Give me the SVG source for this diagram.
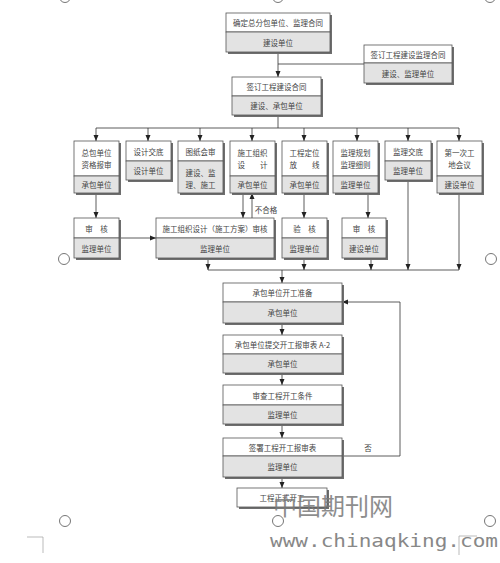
<svg xmlns="http://www.w3.org/2000/svg" width="500" height="563" viewBox="0 0 500 563">
<style>
.sh{fill:#6e6e6e}
.t{fill:#fff;stroke:#555;stroke-width:0.8}
.b{fill:#e3e3e3;stroke:#555;stroke-width:0.8}
text{font-family:"Noto Sans CJK SC","Noto Sans CJK JP",sans-serif;font-size:7.5px;fill:#444;text-anchor:middle;dominant-baseline:central}
.c{stroke:#333;stroke-width:0.8;fill:none}
.h{fill:#fff;stroke:#666;stroke-width:0.9}
.m{stroke:#aaa;stroke-width:0.8;fill:none}
</style>
<defs>
<marker id="a" markerWidth="6" markerHeight="6" refX="6" refY="3" orient="auto" markerUnits="userSpaceOnUse">
<path d="M0,0.5 L6,3 L0,5.5 z" fill="#222"/>
</marker>
</defs>
<rect width="500" height="563" fill="#fff"/>

<g id="connectors">
<path class="c" d="M278,52 V77" marker-end="url(#a)"/>
<path class="c" d="M364,64 H278"/>
<path class="c" d="M278,115 V128 M96,128 H459"/>
<path class="c" d="M96,128 V141" marker-end="url(#a)"/>
<path class="c" d="M148,128 V141" marker-end="url(#a)"/>
<path class="c" d="M200,128 V141" marker-end="url(#a)"/>
<path class="c" d="M252,128 V141" marker-end="url(#a)"/>
<path class="c" d="M304,128 V141" marker-end="url(#a)"/>
<path class="c" d="M357,128 V141" marker-end="url(#a)"/>
<path class="c" d="M408,128 V141" marker-end="url(#a)"/>
<path class="c" d="M459,128 V141" marker-end="url(#a)"/>
<path class="c" d="M96,193 V218" marker-end="url(#a)"/>
<path class="c" d="M119,238 H156" marker-end="url(#a)"/>
<path class="c" d="M243,193 V218" marker-end="url(#a)"/>
<path class="c" d="M252,218 V193" marker-end="url(#a)"/>
<path class="c" d="M304,193 V218" marker-end="url(#a)"/>
<path class="c" d="M368,193 V218" marker-end="url(#a)"/>
<path class="c" d="M208,258 V270" marker-end="url(#a)"/>
<path class="c" d="M304,258 V270" marker-end="url(#a)"/>
<path class="c" d="M371,258 V270" marker-end="url(#a)"/>
<path class="c" d="M408,180 V270" marker-end="url(#a)"/>
<path class="c" d="M459,193 V270" marker-end="url(#a)"/>
<path class="c" d="M208,270 H459"/>
<path class="c" d="M282,270 V283" marker-end="url(#a)"/>
<path class="c" d="M282,323 V335" marker-end="url(#a)"/>
<path class="c" d="M282,373 V385" marker-end="url(#a)"/>
<path class="c" d="M282,424 V438" marker-end="url(#a)"/>
<path class="c" d="M282,477 V488" marker-end="url(#a)"/>
<path class="c" d="M342,456 H400 V302 H342" marker-end="url(#a)"/>
<text x="266" y="209">不合格</text>
<text x="368" y="447">否</text>
</g>

<g id="n1">
<rect class="sh" x="228" y="15" width="104" height="39"/>
<rect class="t" x="226" y="13" width="104" height="19"/>
<rect class="b" x="226" y="32" width="104" height="20"/>
<text x="278" y="22.5">确定总分包单位、监理合同</text>
<text x="278" y="42">建设单位</text>
</g>
<g id="n2">
<rect class="sh" x="366" y="47" width="88" height="38"/>
<rect class="t" x="364" y="45" width="88" height="18"/>
<rect class="b" x="364" y="63" width="88" height="20"/>
<text x="408" y="54">签订工程建设监理合同</text>
<text x="408" y="73">建设、监理单位</text>
</g>
<g id="n3">
<rect class="sh" x="234" y="79" width="89" height="38"/>
<rect class="t" x="232" y="77" width="89" height="19"/>
<rect class="b" x="232" y="96" width="89" height="19"/>
<text x="276.5" y="86.5">签订工程建设合同</text>
<text x="276.5" y="105.5">建设、承包单位</text>
</g>

<g id="r1">
<rect class="sh" x="76" y="143" width="45" height="52"/>
<rect class="t" x="74" y="141" width="45" height="35"/>
<rect class="b" x="74" y="176" width="45" height="17"/>
<text x="96.5" y="152">总包单位</text>
<text x="96.5" y="164">资格报审</text>
<text x="96.5" y="184.5">承包单位</text>
</g>
<g id="r2">
<rect class="sh" x="128" y="143" width="45" height="39"/>
<rect class="t" x="126" y="141" width="45" height="20"/>
<rect class="b" x="126" y="161" width="45" height="19"/>
<text x="148.5" y="151">设计交底</text>
<text x="148.5" y="170.5">设计单位</text>
</g>
<g id="r3">
<rect class="sh" x="180" y="143" width="45" height="52"/>
<rect class="t" x="178" y="141" width="45" height="20"/>
<rect class="b" x="178" y="161" width="45" height="32"/>
<text x="200.5" y="151">图纸会审</text>
<text x="200.5" y="172">建设、监</text>
<text x="200.5" y="184.5">理、施工</text>
</g>
<g id="r4">
<rect class="sh" x="232" y="143" width="45" height="52"/>
<rect class="t" x="230" y="141" width="45" height="35"/>
<rect class="b" x="230" y="176" width="45" height="17"/>
<text x="252.5" y="152">施工组织</text>
<text x="252.5" y="164">设　　计</text>
<text x="252.5" y="184.5">承包单位</text>
</g>
<g id="r5">
<rect class="sh" x="284" y="143" width="45" height="52"/>
<rect class="t" x="282" y="141" width="45" height="35"/>
<rect class="b" x="282" y="176" width="45" height="17"/>
<text x="304.5" y="152">工程定位</text>
<text x="304.5" y="164">放　　线</text>
<text x="304.5" y="184.5">承包单位</text>
</g>
<g id="r6">
<rect class="sh" x="335" y="143" width="45" height="52"/>
<rect class="t" x="333" y="141" width="45" height="35"/>
<rect class="b" x="333" y="176" width="45" height="17"/>
<text x="355.5" y="152">监理规划</text>
<text x="355.5" y="164">监理细则</text>
<text x="355.5" y="184.5">监理单位</text>
</g>
<g id="r7">
<rect class="sh" x="387" y="143" width="46" height="39"/>
<rect class="t" x="385" y="141" width="46" height="20"/>
<rect class="b" x="385" y="161" width="46" height="19"/>
<text x="408" y="151">监理交底</text>
<text x="408" y="170.5">监理单位</text>
</g>
<g id="r8">
<rect class="sh" x="439" y="143" width="45" height="52"/>
<rect class="t" x="437" y="141" width="45" height="35"/>
<rect class="b" x="437" y="176" width="45" height="17"/>
<text x="459.5" y="152">第一次工</text>
<text x="459.5" y="164">地会议</text>
<text x="459.5" y="184.5">建设单位</text>
</g>

<g id="s1">
<rect class="sh" x="76" y="220" width="45" height="40"/>
<rect class="t" x="74" y="218" width="45" height="20"/>
<rect class="b" x="74" y="238" width="45" height="20"/>
<text x="96.5" y="228">审　核</text>
<text x="96.5" y="248">监理单位</text>
</g>
<g id="s2">
<rect class="sh" x="158" y="220" width="118" height="40"/>
<rect class="t" x="156" y="218" width="118" height="20"/>
<rect class="b" x="156" y="238" width="118" height="20"/>
<text x="215" y="228">施工组织设计（施工方案）审核</text>
<text x="215" y="248">监理单位</text>
</g>
<g id="s3">
<rect class="sh" x="284" y="220" width="45" height="40"/>
<rect class="t" x="282" y="218" width="45" height="20"/>
<rect class="b" x="282" y="238" width="45" height="20"/>
<text x="304.5" y="228">验　核</text>
<text x="304.5" y="248">监理单位</text>
</g>
<g id="s4">
<rect class="sh" x="344" y="220" width="44" height="40"/>
<rect class="t" x="342" y="218" width="44" height="20"/>
<rect class="b" x="342" y="238" width="44" height="20"/>
<text x="364" y="228">审　核</text>
<text x="364" y="248">建设单位</text>
</g>

<g id="f1">
<rect class="sh" x="225" y="285" width="119" height="40"/>
<rect class="t" x="223" y="283" width="119" height="19"/>
<rect class="b" x="223" y="302" width="119" height="21"/>
<text x="282.5" y="292.5">承包单位开工准备</text>
<text x="282.5" y="312.5">承包单位</text>
</g>
<g id="f2">
<rect class="sh" x="225" y="337" width="119" height="38"/>
<rect class="t" x="223" y="335" width="119" height="19"/>
<rect class="b" x="223" y="354" width="119" height="19"/>
<text x="282.5" y="344.5">承包单位提交开工报审表 A-2</text>
<text x="282.5" y="363.5">承包单位</text>
</g>
<g id="f3">
<rect class="sh" x="225" y="387" width="119" height="39"/>
<rect class="t" x="223" y="385" width="119" height="20"/>
<rect class="b" x="223" y="405" width="119" height="19"/>
<text x="282.5" y="395">审查工程开工条件</text>
<text x="282.5" y="414.5">监理单位</text>
</g>
<g id="f4">
<rect class="sh" x="225" y="440" width="119" height="39"/>
<rect class="t" x="223" y="438" width="119" height="18"/>
<rect class="b" x="223" y="456" width="119" height="21"/>
<text x="282.5" y="447">签署工程开工报审表</text>
<text x="282.5" y="466.5">监理单位</text>
</g>
<g id="f5">
<rect class="sh" x="239" y="490" width="90" height="19"/>
<rect class="t" x="237" y="488" width="90" height="19"/>
<text x="282" y="497.5">工程正式开工</text>
</g>

<g id="handles">
<circle class="h" cx="65" cy="-3" r="5.5"/>
<circle class="h" cx="278" cy="-3" r="5.5"/>
<circle class="h" cx="490" cy="-3" r="5.5"/>
<circle class="h" cx="64" cy="259" r="5.5"/>
<circle class="h" cx="491" cy="259" r="5.5"/>
<circle class="h" cx="65" cy="521" r="5.5"/>
<circle class="h" cx="278" cy="521" r="5.5"/>
<circle class="h" cx="490" cy="521" r="5.5"/>
<path class="m" d="M27,537 H43 V553"/>
<path class="m" d="M477,536 H459 V555"/>
</g>

<g id="watermark">
<text x="333" y="504" style="font-size:24px;fill:#7a7a7a;opacity:0.85">中国期刊网</text>
<text x="384" y="541" textLength="228" lengthAdjust="spacingAndGlyphs" style="font-family:'DejaVu Sans Mono',monospace;font-size:17px;fill:#888">www.chinaqking.com</text>
</g>
</svg>
